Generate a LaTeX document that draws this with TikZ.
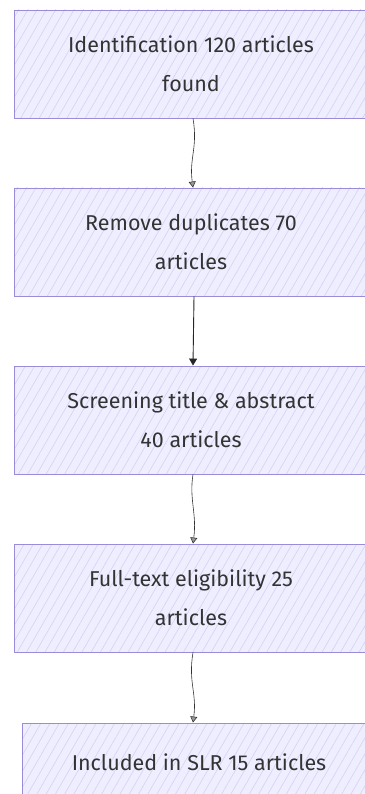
\documentclass[tikz,border=0pt]{standalone}
\usepackage{fontspec}
\setmainfont{Fira Sans}
\usetikzlibrary{arrows.meta,patterns.meta}
\definecolor{boxfill}{HTML}{EEEEFF}
\definecolor{boxline}{HTML}{9A8CDA}
\definecolor{hatch}{HTML}{D6D0F4}
\definecolor{txt}{HTML}{333333}
\tikzset{
  stage/.style={draw=boxline, line width=0.9pt, preaction={fill=boxfill},
    pattern={Lines[angle=60,distance=8pt,line width=0.6pt]}, pattern color=hatch,
    minimum width=354pt, minimum height=108pt, align=center, text=txt,
    font=\fontsize{21.5}{39}\selectfont},
  flow/.style={draw=black!80, line width=0.6pt, -{Triangle[length=6pt,width=7pt,fill=black!40]}},
  flowsolid/.style={draw=black!85, line width=0.9pt, -{Triangle[length=7pt,width=8pt]}}
}
\begin{document}
\begin{tikzpicture}[x=1pt,y=-1pt]
\useasboundingbox (0,0) rectangle (364,794);
\node[stage] (ident) at (191,64) {Identification 120 articles\\found};
\node[stage] (dup) at (191,242) {Remove duplicates 70\\articles};
\node[stage] (screen) at (191,420) {Screening title \& abstract\\40 articles};
\node[stage] (full) at (191,598) {Full-text eligibility 25\\articles};
\node[stage, minimum height=78pt] (incl) at (199,762) {Included in SLR 15 articles};
% connectors
\draw[flow] ([xshift=2pt]ident.south) .. controls +(5,30) and +(-4,-30) .. ([xshift=2pt]dup.north);
\draw[flowsolid] ([xshift=3pt]dup.south) -- ([xshift=2pt]screen.north);
\draw[flow] ([xshift=2pt]screen.south) .. controls +(-4,25) and +(4,-30) .. ([xshift=2pt]full.north);
\draw[flow] ([xshift=2pt]full.south) .. controls +(-5,30) and +(4,-30) .. ([xshift=-6pt]incl.north);
\end{tikzpicture}
\end{document}
